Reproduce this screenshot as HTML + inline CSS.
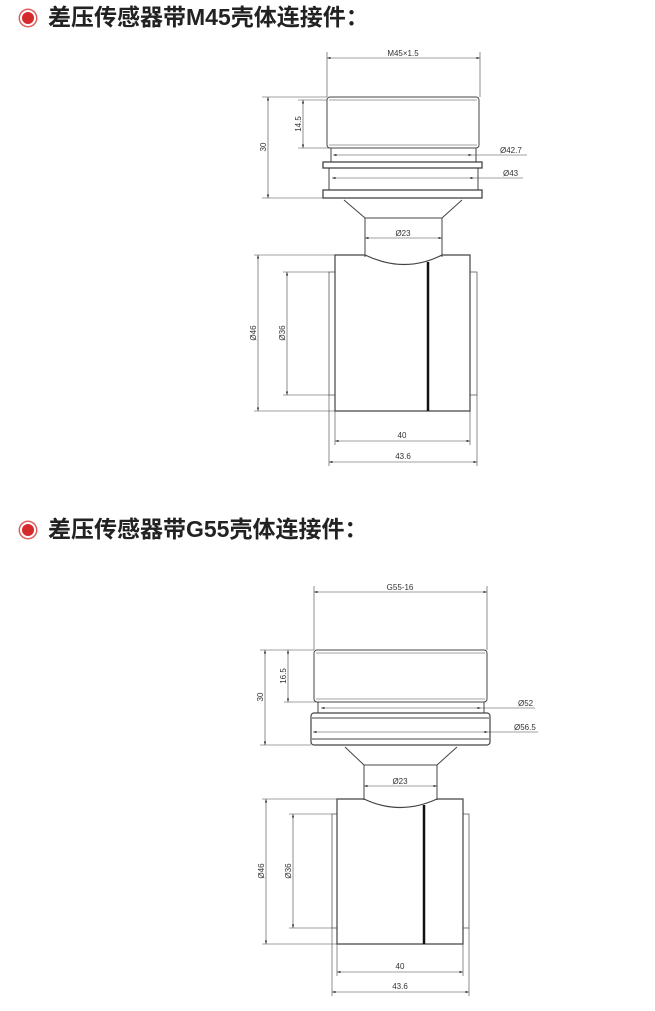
<!DOCTYPE html>
<html><head><meta charset="utf-8"><style>
html,body{margin:0;padding:0;background:#fff;width:655px;height:1011px;overflow:hidden}
.t{position:absolute;left:48px;font-family:"Liberation Sans","Noto Sans CJK SC",sans-serif;font-weight:bold;font-size:23px;color:#222;line-height:24px}
.dot{position:absolute;width:12px;height:12px;border-radius:50%;background:#d42a2a;border:2px solid #fff;box-shadow:0 0 0 1.5px #e06060}
svg{position:absolute;left:0;top:0}
</style></head><body>
<div class="dot" style="left:20px;top:10px"></div>
<div class="t" style="top:5px">差压传感器带M45壳体连接件：</div>
<div class="dot" style="left:20px;top:522px"></div>
<div class="t" style="top:517px">差压传感器带G55壳体连接件：</div>
<svg width="655" height="1011" viewBox="0 0 655 1011">
<defs>
<marker id="a" markerWidth="6" markerHeight="4" refX="6" refY="2" orient="auto-start-reverse"><path d="M0,0L6,2L0,4z" fill="#333"/></marker>
</defs>
<g fill="none" stroke="#444" stroke-width="1">
<line x1="327" y1="52" x2="327" y2="97" stroke-width="0.6"/>
<line x1="480" y1="52" x2="480" y2="97" stroke-width="0.6"/>
<line x1="327" y1="58" x2="480" y2="58" stroke-width="0.6" marker-start="url(#a)" marker-end="url(#a)"/>
<rect x="327" y="97" width="152" height="51" rx="3"/>
<line x1="329" y1="100" x2="477" y2="100" stroke-width="0.6"/>
<line x1="329" y1="145" x2="477" y2="145" stroke-width="0.6"/>
<rect x="331" y="148" width="145" height="14"/>
<line x1="333" y1="155" x2="472" y2="155" stroke-width="0.6" marker-start="url(#a)" marker-end="url(#a)"/>
<line x1="472" y1="155" x2="527" y2="155" stroke-width="0.6"/>
<rect x="323" y="162" width="159" height="6" stroke-width="1.3"/>
<rect x="329" y="168" width="149" height="22"/>
<line x1="332" y1="178" x2="474" y2="178" stroke-width="0.6" marker-start="url(#a)" marker-end="url(#a)"/>
<line x1="474" y1="178" x2="523" y2="178" stroke-width="0.6"/>
<rect x="323" y="190" width="159" height="8" stroke-width="1.3"/>
<path d="M344,198L462,198M344,200L365,218L365,257M462,200L442,218L442,257M365,218L442,218"/>
<line x1="365" y1="238" x2="442" y2="238" stroke-width="0.6" marker-start="url(#a)" marker-end="url(#a)"/>
<line x1="262" y1="97" x2="327" y2="97" stroke-width="0.6"/>
<line x1="262" y1="198" x2="323" y2="198" stroke-width="0.6"/>
<line x1="268" y1="97" x2="268" y2="198" stroke-width="0.6" marker-start="url(#a)" marker-end="url(#a)"/>
<line x1="298" y1="100" x2="327" y2="100" stroke-width="0.6"/>
<line x1="298" y1="148" x2="329" y2="148" stroke-width="0.6"/>
<line x1="303" y1="100" x2="303" y2="148" stroke-width="0.6" marker-start="url(#a)" marker-end="url(#a)"/>
<path d="M335,255L365,255Q405,274 442,255L470,255L470,411L335,411Z" stroke-width="1.2"/>
<line x1="428" y1="262" x2="428" y2="411" stroke="#111" stroke-width="2.5"/>
<rect x="329" y="272" width="6" height="123" stroke-width="0.7"/>
<rect x="470" y="272" width="7" height="123" stroke-width="0.7"/>
<line x1="254" y1="255" x2="335" y2="255" stroke-width="0.6"/>
<line x1="254" y1="411" x2="335" y2="411" stroke-width="0.6"/>
<line x1="258" y1="255" x2="258" y2="411" stroke-width="0.6" marker-start="url(#a)" marker-end="url(#a)"/>
<line x1="283" y1="272" x2="329" y2="272" stroke-width="0.6"/>
<line x1="283" y1="395" x2="329" y2="395" stroke-width="0.6"/>
<line x1="287" y1="272" x2="287" y2="395" stroke-width="0.6" marker-start="url(#a)" marker-end="url(#a)"/>
<line x1="329" y1="395" x2="329" y2="466" stroke-width="0.6"/>
<line x1="477" y1="395" x2="477" y2="466" stroke-width="0.6"/>
<line x1="335" y1="411" x2="335" y2="445" stroke-width="0.6"/>
<line x1="470" y1="411" x2="470" y2="445" stroke-width="0.6"/>
<line x1="335" y1="441" x2="470" y2="441" stroke-width="0.6" marker-start="url(#a)" marker-end="url(#a)"/>
<line x1="329" y1="462" x2="477" y2="462" stroke-width="0.6" marker-start="url(#a)" marker-end="url(#a)"/>

<line x1="314" y1="586" x2="314" y2="650" stroke-width="0.6"/>
<line x1="487" y1="586" x2="487" y2="650" stroke-width="0.6"/>
<line x1="314" y1="592" x2="487" y2="592" stroke-width="0.6" marker-start="url(#a)" marker-end="url(#a)"/>
<rect x="314" y="650" width="173" height="52" rx="3"/>
<line x1="316" y1="653" x2="485" y2="653" stroke-width="0.6"/>
<line x1="316" y1="699" x2="485" y2="699" stroke-width="0.6"/>
<rect x="318" y="702" width="166" height="11"/>
<line x1="321" y1="708" x2="481" y2="708" stroke-width="0.6" marker-start="url(#a)" marker-end="url(#a)"/>
<line x1="481" y1="708" x2="535" y2="708" stroke-width="0.6"/>
<rect x="311" y="713" width="179" height="32" rx="3" stroke-width="1.2"/>
<line x1="312" y1="718" x2="489" y2="718"/>
<line x1="312" y1="739" x2="489" y2="739"/>
<line x1="313" y1="732" x2="488" y2="732" stroke-width="0.6" marker-start="url(#a)" marker-end="url(#a)"/>
<line x1="488" y1="732" x2="538" y2="732" stroke-width="0.6"/>
<path d="M345,745L457,745M345,747L364,765L364,800M457,747L437,765L437,800M364,765L437,765"/>
<line x1="364" y1="786" x2="437" y2="786" stroke-width="0.6" marker-start="url(#a)" marker-end="url(#a)"/>
<line x1="260" y1="650" x2="314" y2="650" stroke-width="0.6"/>
<line x1="260" y1="745" x2="311" y2="745" stroke-width="0.6"/>
<line x1="265" y1="650" x2="265" y2="745" stroke-width="0.6" marker-start="url(#a)" marker-end="url(#a)"/>
<line x1="284" y1="702" x2="318" y2="702" stroke-width="0.6"/>
<line x1="288" y1="650" x2="288" y2="702" stroke-width="0.6" marker-start="url(#a)" marker-end="url(#a)"/>
<path d="M337,799L364,799Q400,816 437,799L463,799L463,944L337,944Z" stroke-width="1.2"/>
<line x1="424" y1="805" x2="424" y2="944" stroke="#111" stroke-width="2.5"/>
<rect x="332" y="814" width="5" height="114" stroke-width="0.7"/>
<rect x="463" y="814" width="6" height="114" stroke-width="0.7"/>
<line x1="262" y1="799" x2="337" y2="799" stroke-width="0.6"/>
<line x1="262" y1="944" x2="337" y2="944" stroke-width="0.6"/>
<line x1="266" y1="799" x2="266" y2="944" stroke-width="0.6" marker-start="url(#a)" marker-end="url(#a)"/>
<line x1="289" y1="814" x2="332" y2="814" stroke-width="0.6"/>
<line x1="289" y1="928" x2="332" y2="928" stroke-width="0.6"/>
<line x1="293" y1="814" x2="293" y2="928" stroke-width="0.6" marker-start="url(#a)" marker-end="url(#a)"/>
<line x1="332" y1="928" x2="332" y2="996" stroke-width="0.6"/>
<line x1="469" y1="928" x2="469" y2="996" stroke-width="0.6"/>
<line x1="337" y1="944" x2="337" y2="976" stroke-width="0.6"/>
<line x1="463" y1="944" x2="463" y2="976" stroke-width="0.6"/>
<line x1="337" y1="972" x2="463" y2="972" stroke-width="0.6" marker-start="url(#a)" marker-end="url(#a)"/>
<line x1="332" y1="992" x2="469" y2="992" stroke-width="0.6" marker-start="url(#a)" marker-end="url(#a)"/>
</g>
<g font-family="Liberation Sans, sans-serif" font-size="8" fill="#333">
<text x="403" y="56" text-anchor="middle">M45×1.5</text>
<text x="500" y="153">Ø42.7</text>
<text x="503" y="176">Ø43</text>
<text x="403" y="236" text-anchor="middle">Ø23</text>
<text x="266" y="147" text-anchor="middle" transform="rotate(-90 266 147)">30</text>
<text x="301" y="124" text-anchor="middle" transform="rotate(-90 301 124)">14.5</text>
<text x="256" y="333" text-anchor="middle" transform="rotate(-90 256 333)">Ø46</text>
<text x="285" y="333" text-anchor="middle" transform="rotate(-90 285 333)">Ø36</text>
<text x="402" y="438" text-anchor="middle">40</text>
<text x="403" y="459" text-anchor="middle">43.6</text>
<text x="400" y="590" text-anchor="middle">G55-16</text>
<text x="518" y="706">Ø52</text>
<text x="514" y="730">Ø56.5</text>
<text x="400" y="784" text-anchor="middle">Ø23</text>
<text x="263" y="697" text-anchor="middle" transform="rotate(-90 263 697)">30</text>
<text x="286" y="676" text-anchor="middle" transform="rotate(-90 286 676)">16.5</text>
<text x="264" y="871" text-anchor="middle" transform="rotate(-90 264 871)">Ø46</text>
<text x="291" y="871" text-anchor="middle" transform="rotate(-90 291 871)">Ø36</text>
<text x="400" y="969" text-anchor="middle">40</text>
<text x="400" y="989" text-anchor="middle">43.6</text>
</g>
</svg>
</body></html>
